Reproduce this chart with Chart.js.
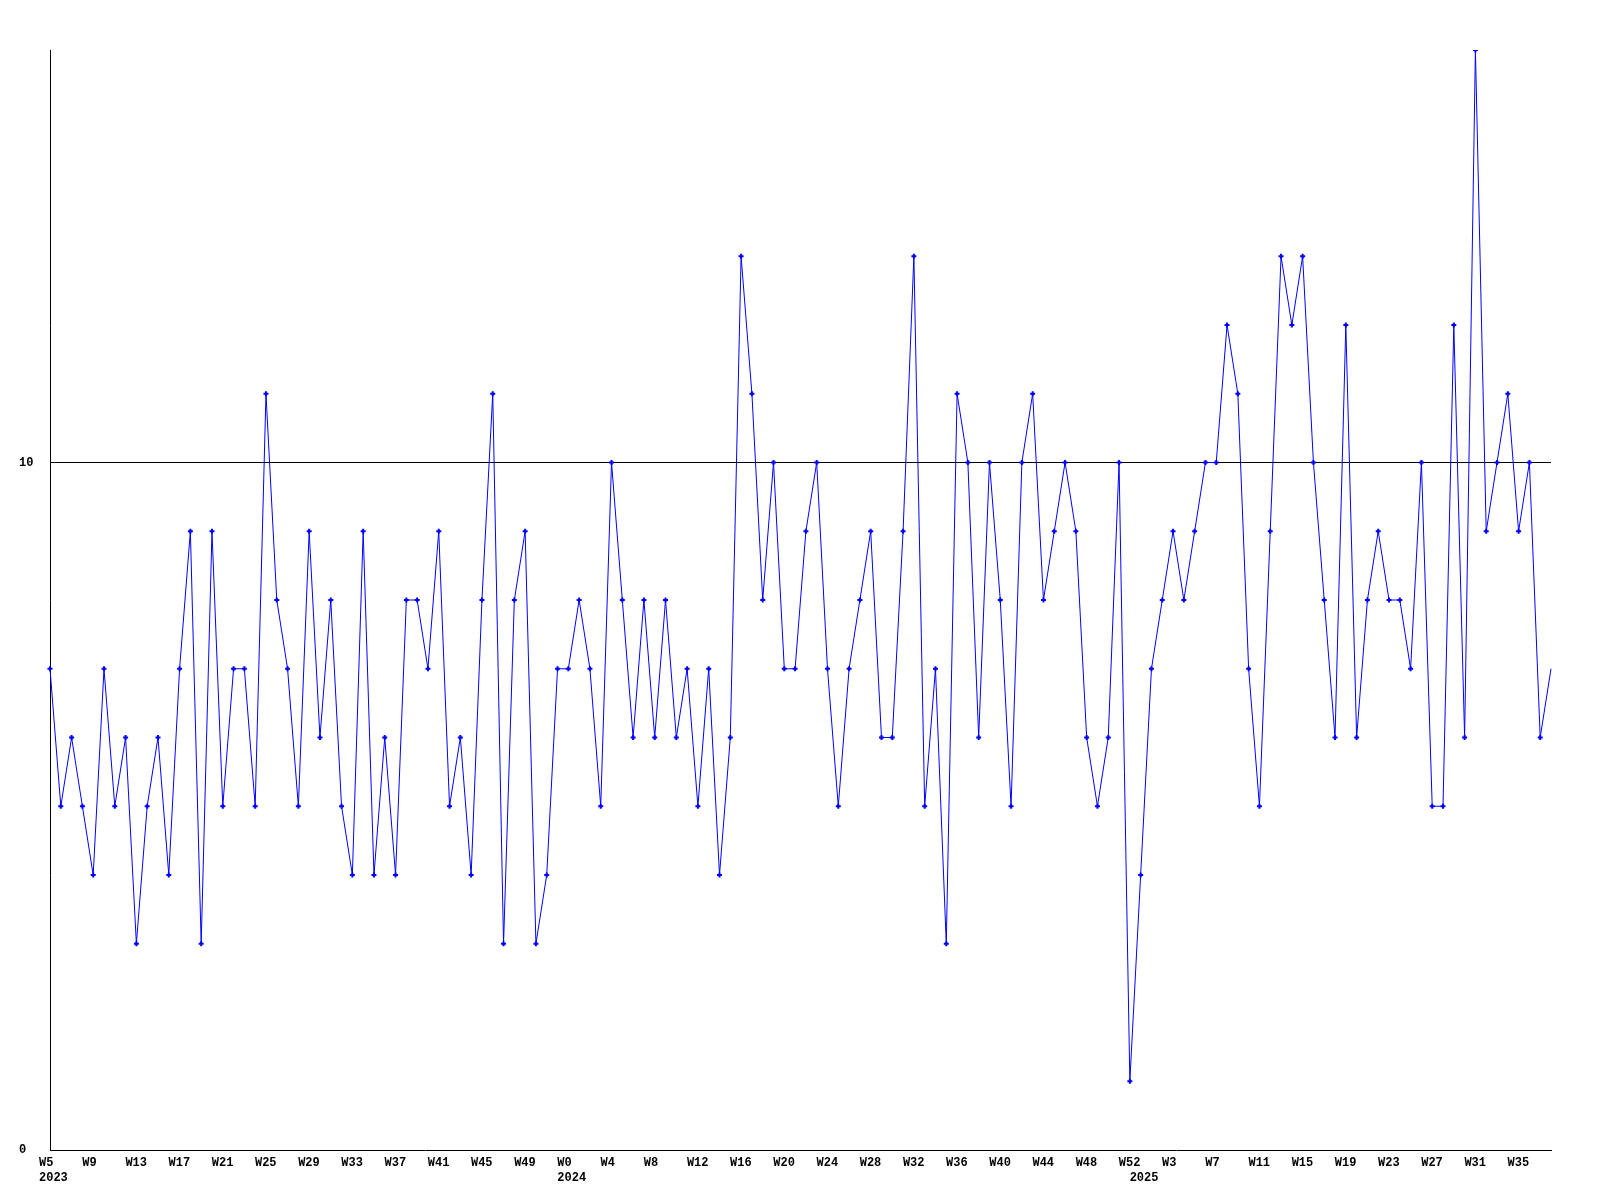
<!DOCTYPE html>
<html>
<head>
<meta charset="utf-8">
<script src="https://cdn.jsdelivr.net/npm/chart.js@4/dist/chart.umd.min.js"></script>
<style>
  html, body { margin: 0; padding: 0; background: #fff; }
  canvas { display: block; }
</style>
</head>
<body>
<canvas id="chart" width="1600" height="1200" style="width:1600px;height:1200px"></canvas>
<script>
// weekly counts, one array per year
const years = ['2023', '2024', '2025'];
const firstWeek = [5, 0, 0];
const lastWeek = [52, 52, 38];
const counts2023 = [7, 5, 6, 5, 4, 7, 5, 6, 3, 5, 6, 4, 7, 9, 3, 9, 5, 7, 7, 5, 11, 8, 7, 5, 9, 6, 8, 5, 4, 9, 4, 6, 4, 8, 8, 7, 9, 5, 6, 4, 8, 11, 3, 8, 9, 3, 4, 7];
const counts2024 = [7, 8, 7, 5, 10, 8, 6, 8, 6, 8, 6, 7, 5, 7, 4, 6, 13, 11, 8, 10, 7, 7, 9, 10, 7, 5, 7, 8, 9, 6, 6, 9, 13, 5, 7, 3, 11, 10, 6, 10, 8, 5, 10, 11, 8, 9, 10, 9, 6, 5, 6, 10, 1];
const counts2025 = [4, 7, 8, 9, 8, 9, 10, 10, 12, 11, 7, 5, 9, 13, 12, 13, 10, 8, 6, 12, 6, 8, 9, 8, 8, 7, 10, 5, 5, 12, 6, 16, 9, 10, 11, 9, 10, 6, 7];
const yTicks = [0, 10];

const labels = [];
const yearStart = [];
years.forEach((y, k) => {
  yearStart.push(labels.length);
  for (let w = firstWeek[k]; w <= lastWeek[k]; w++) labels.push('W' + w);
});
const values = [...counts2023, ...counts2024, ...counts2025];
const last = values.length - 1;

const font = { family: '"Liberation Mono", "DejaVu Sans Mono", monospace', size: 12, weight: 'bold', lineHeight: 1.25 };

new Chart(document.getElementById('chart'), {
  type: 'line',
  data: {
    labels,
    datasets: [{
      data: values,
      borderColor: '#0000ff',
      backgroundColor: '#0000ff',
      borderWidth: 1,
      tension: 0,
      pointStyle: 'cross',
      pointRadius: (c) => (c.dataIndex === last ? 0 : 2.5),
      pointBorderWidth: 2,
      pointBorderColor: '#0000ff'
    }]
  },
  options: {
    responsive: false,
    animation: false,
    devicePixelRatio: 1,
    layout: { padding: { left: 19, top: 50, right: 49, bottom: 10 } },
    plugins: { legend: { display: false }, tooltip: { enabled: false } },
    scales: {
      x: {
        offset: false,
        grid: { display: false, drawTicks: false },
        border: { display: true, color: '#000', width: 1 },
        afterFit: (s) => { s.height = 40; },
        ticks: {
          autoSkip: false,
          maxRotation: 0,
          minRotation: 0,
          align: 'start',
          labelOffset: -11,
          padding: 5,
          color: '#000',
          font,
          callback: (v, i) => {
            const y = yearStart.indexOf(i);
            const wk = i % 4 === 0 ? labels[i] : '';
            if (y < 0 && !wk) return null;
            return y >= 0 ? [wk, years[y]] : wk;
          }
        }
      },
      y: {
        min: 0,
        max: 16,
        afterFit: (s) => { s.width = 31; },
        afterBuildTicks: (s) => { s.ticks = yTicks.map((v) => ({ value: v })); },
        grid: {
          drawTicks: false,
          lineWidth: 1,
          color: (c) => (c.tick && c.tick.value === 10 ? '#000' : 'rgba(0,0,0,0)')
        },
        border: { display: true, color: '#000', width: 1 },
        ticks: { crossAlign: 'far', padding: 4, color: '#000', font }
      }
    }
  }
});
</script>
</body>
</html>
